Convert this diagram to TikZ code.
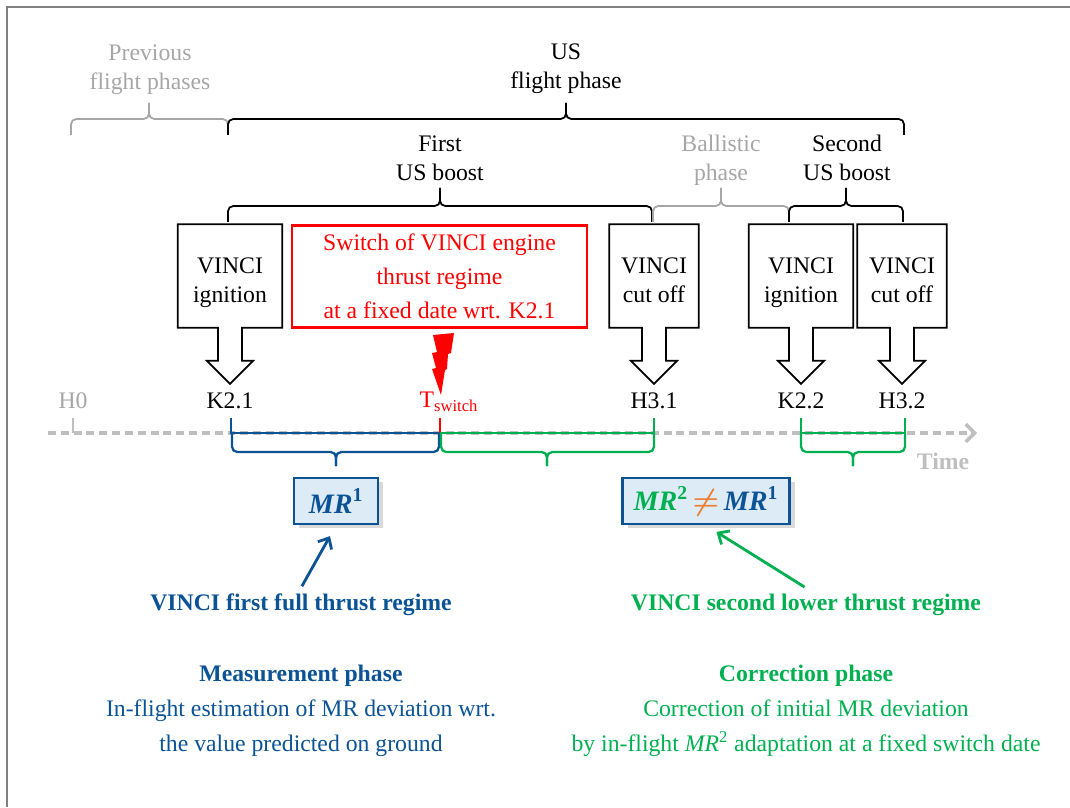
\documentclass[tikz,border=0pt]{standalone}
\usepackage{fontspec}
\setmainfont{Liberation Serif}
\usetikzlibrary{arrows.meta, calc, shadows}
\definecolor{phblue}{HTML}{0B5394}
\definecolor{phgreen}{HTML}{00B050}
\definecolor{lgray}{HTML}{A6A6A6}
\definecolor{tlgray}{HTML}{BFBFBF}
\definecolor{mrfill}{HTML}{DDEBF7}
\definecolor{neqorange}{HTML}{ED7D31}
\definecolor{framegray}{HTML}{808080}

\newcommand{\mratio}[1]{\textit{MR}\textsuperscript{#1}}
% brace: style, left x, tip x, right x, end y, mid y, tip y
\newcommand{\phbrace}[7]{%
  \draw[#1] (#2,#5) -- (#2,#6) -- (#3,#6) -- (#3,#7);
  \draw[#1] (#3,#7) -- (#3,#6) -- (#4,#6) -- (#4,#5);}
% box with block arrow pointing down
\newcommand{\vinciout}[1]{%
  \draw[outline] (#1.north west) -- (#1.north east) -- (#1.south east)
    -- ($(#1.south)+(12,0)$) -- ++(0,33) -- ++(11,0) -- ($(#1.south)+(0,56)$)
    -- ($(#1.south)+(-23,33)$) -- ++(11,0) -- ($(#1.south)+(-12,0)$)
    -- (#1.south west) -- cycle;}

\begin{document}
\begin{tikzpicture}[x=0.02cm, y=-0.02cm,
  font=\fontsize{13.5}{16.4}\selectfont,
  phase/.style={align=center, inner sep=0pt},
  vinci/.style={minimum height=2.06cm, align=center, inner sep=0pt,
                text height=30pt, text depth=0pt},
  outline/.style={draw, line width=1pt, line join=miter},
  switchbox/.style={draw=red, line width=1.6pt, text=red, minimum width=5.9cm,
                    minimum height=2.03cm, align=center,
                    font=\fontsize{13.5}{19.3}\selectfont},
  event/.style={inner sep=1pt},
  brc/.style={line width=1pt, rounded corners=3pt},
  tickmk/.style={line width=1.3pt},
  timeline/.style={tlgray, line width=2pt, dash pattern=on 4.5pt off 2.8pt,
                   -{Straight Barb[length=5pt,width=10pt]}},
  mrbox/.style={draw=phblue, fill=mrfill, line width=1.6pt, minimum height=0.92cm,
                font=\fontsize{16}{18}\selectfont\bfseries,
                drop shadow={opacity=0.3, shadow xshift=3pt, shadow yshift=-2.5pt}},
  regime/.style={font=\fontsize{13.5}{16.4}\selectfont\bfseries},
  summary/.style={align=center, font=\fontsize{13.5}{20}\selectfont},
  regarr/.style={line width=1.6pt, -{Straight Barb[length=5pt,width=9pt]},
                 shorten >=7pt, shorten <=1pt},
]
  \useasboundingbox (0,0) rectangle (1070,807);
  \draw[framegray, line width=0.6pt] (7,807) -- (7,7) -- (1070,7);

  % flight phases
  \node[phase, text=lgray] (prev) at (150,70) {Previous\\flight phases};
  \node[phase] (usphase) at (566,69) {US\\flight phase};
  \node[phase] (boost1) at (440,158) {First\\US boost};
  \node[phase, text=lgray] (ballistic) at (721,160) {Ballistic\\phase};
  \node[phase] (boost2) at (847,158) {Second\\US boost};

  \phbrace{brc, lgray}{71}{149}{228}{135}{119}{103}
  \phbrace{brc}{228}{566}{904}{135}{119}{103}
  \phbrace{brc}{228}{440}{652}{222}{206}{188}
  \phbrace{brc, lgray}{653}{721}{789}{222}{206}{188}
  \phbrace{brc}{789}{846}{903}{222}{206}{188}

  % engine events
  \node[vinci, minimum width=2.08cm] (ign1) at (230,276) {VINCI\\ignition};
  \node[switchbox] (switch) at (439.5,276.5)
    {Switch of VINCI engine\\thrust regime\\at a fixed date wrt. K2.1};
  \node[vinci, minimum width=1.78cm] (cut1) at (654,276) {VINCI\\cut off};
  \node[vinci, minimum width=2.08cm] (ign2) at (801,276) {VINCI\\ignition};
  \node[vinci, minimum width=1.78cm] (cut2) at (902,276) {VINCI\\cut off};
  \foreach \b in {ign1,cut1,ign2,cut2} {\vinciout{\b}}

  \fill[red] (433,335) -- (454,333) -- (451,353) -- (448,354) -- (447,369)
    -- (445,370) -- (441,395) -- (432,369) -- (436,368) -- (432,353)
    -- (437,352) -- cycle;

  \node[event, text=lgray] (h0) at (73,401) {H0};
  \node[event] (k21) at (230,401) {K2.1};
  \node[event, text=red] (tswitch) at (449,402) {T\textsubscript{switch}};
  \node[event] (h31) at (654,401) {H3.1};
  \node[event] (k22) at (801,401) {K2.2};
  \node[event] (h32) at (902,401) {H3.2};

  % time axis
  \coordinate (t0) at (48,433);
  \coordinate (tend) at (977,433);
  \coordinate (h0t) at (73,433);
  \coordinate (k21t) at (231,433);
  \coordinate (tsw) at (440,433);
  \coordinate (h31t) at (654,433);
  \coordinate (k22t) at (801,433);
  \coordinate (h32t) at (905,433);
  \draw[timeline] (t0) -- (tend);
  \node[text=tlgray, font=\fontsize{13.5}{16}\selectfont\bfseries] (time) at (943,461) {Time};

  \draw[tickmk, tlgray] (h0t) -- ++(0,-15);
  \draw[tickmk, phblue] ($(k21t)+(0,-15)$) -- (k21t) -- (tsw);
  \draw[tickmk, red] (tsw) -- ++(0,-15);
  \draw[tickmk, phgreen] (tsw) -- (h31t) -- ++(0,-15);
  \draw[tickmk, phgreen] ($(k22t)+(0,-15)$) -- (k22t) -- (h32t) -- ++(0,-15);

  \phbrace{brc, phblue, line width=1.3pt}{232}{336}{439}{433}{452}{466}
  \phbrace{brc, phgreen, line width=1.3pt}{441}{547}{654}{433}{452}{466}
  \phbrace{brc, phgreen, line width=1.3pt}{801}{853}{905}{433}{452}{466}

  % mixture ratios
  \node[mrbox, minimum width=1.68cm, text=phblue] (mr1) at (336,501) {\mratio{1}};
  \node[mrbox, minimum width=3.34cm] (mr2) at (706,501)
    {\textcolor{phgreen}{\mratio{2}}\,\textcolor{neqorange}{\boldmath$\neq$}\,\textcolor{phblue}{\mratio{1}}};

  \node[regime, text=phblue] (fullreg) at (301,605) {VINCI first full thrust regime};
  \node[regime, text=phgreen] (lowreg) at (806,605) {VINCI second lower thrust regime};
  \draw[regarr, phblue] (fullreg.north) -- (mr1.south);
  \draw[regarr, phgreen] (lowreg.north) -- (mr2.south);

  \node[summary, text=phblue] (meas) at (301,711)
    {\textbf{Measurement phase}\\In-flight estimation of MR deviation wrt.\\the value predicted on ground};
  \node[summary, text=phgreen] (corr) at (806,711)
    {\textbf{Correction phase}\\Correction of initial MR deviation\\by in-flight \mratio{2} adaptation at a fixed switch date};
\end{tikzpicture}
\end{document}
